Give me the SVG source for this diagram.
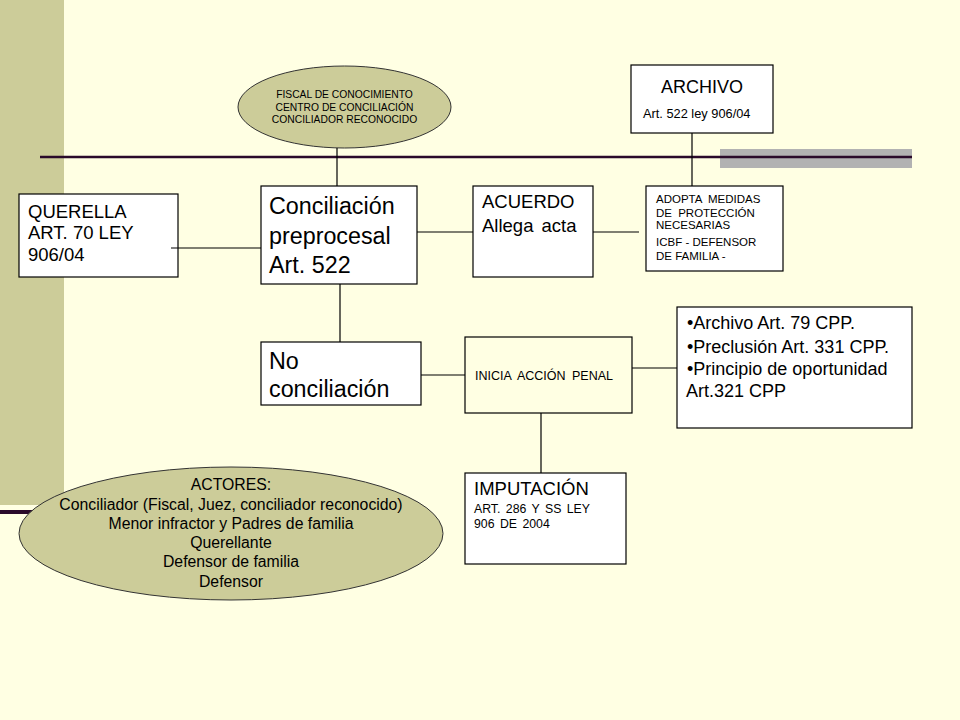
<svg xmlns="http://www.w3.org/2000/svg" width="960" height="720" viewBox="0 0 960 720">
<style>
text{font-family:"Liberation Sans",Arial,sans-serif;fill:#000}
.box{fill:#fff;stroke:#000;stroke-width:1.2}
.ell{fill:#CCCC99;stroke:#333;stroke-width:1}
.c{stroke:#000;stroke-width:1.2;fill:none}
</style>
<rect width="960" height="720" fill="#FFFFE3"/>
<rect x="0" y="0" width="64" height="505" fill="#CCCC99"/>
<rect x="720" y="149" width="192" height="19" fill="#B2B2B2"/>
<line x1="40" y1="157" x2="912" y2="157" stroke="#2A0A2A" stroke-width="2.6"/>
<line x1="0" y1="512" x2="70" y2="512" stroke="#2A0A2A" stroke-width="4"/>

<g id="fiscal">
<ellipse class="ell" cx="344.5" cy="107" rx="106.5" ry="41"/>
<text font-size="10.3" text-anchor="middle" x="344.5" y="97.5">FISCAL DE CONOCIMIENTO</text>
<text font-size="10.3" text-anchor="middle" x="344.5" y="110.5">CENTRO DE CONCILIACIÓN</text>
<text font-size="10.3" text-anchor="middle" x="344.5" y="123">CONCILIADOR RECONOCIDO</text>
</g>

<g id="archivo">
<rect class="box" x="631" y="65" width="142" height="68"/>
<text font-size="18" text-anchor="middle" x="702" y="92.5">ARCHIVO</text>
<text font-size="12.8" x="643" y="117.5">Art. 522 ley 906/04</text>
</g>

<g id="querella">
<rect class="box" x="19" y="194" width="159" height="83"/>
<text font-size="18.5" x="28" y="217.5">QUERELLA</text>
<text font-size="18.5" x="28" y="239">ART. 70 LEY</text>
<text font-size="18.5" x="28" y="260.5">906/04</text>
</g>

<g id="conciliacion">
<rect class="box" x="261" y="186" width="156" height="98"/>
<text font-size="23.3" x="269" y="214">Conciliación</text>
<text font-size="23.3" x="269" y="244">preprocesal</text>
<text font-size="23.3" x="269" y="272.5">Art. 522</text>
</g>

<g id="acuerdo">
<rect class="box" x="473" y="186" width="120" height="91"/>
<text font-size="18.5" x="482" y="208">ACUERDO</text>
<text font-size="18.5" x="482" y="231.5" word-spacing="3">Allega acta</text>
</g>

<g id="adopta">
<rect class="box" x="646" y="186" width="137" height="85"/>
<text font-size="11.5" x="656" y="202.5" word-spacing="3">ADOPTA MEDIDAS</text>
<text font-size="11.5" x="656" y="216.5" word-spacing="3">DE PROTECCIÓN</text>
<text font-size="11.5" x="656" y="229.3">NECESARIAS</text>
<text font-size="11.5" x="656" y="246">ICBF - DEFENSOR</text>
<text font-size="11.5" x="656" y="260">DE FAMILIA -</text>
</g>

<g id="noconciliacion">
<rect class="box" x="261" y="342" width="160" height="63"/>
<text font-size="23.3" x="269" y="369">No</text>
<text font-size="23.3" x="269" y="397.3">conciliación</text>
</g>

<g id="inicia">
<rect x="465" y="337" width="167" height="76" fill="#FFFFE3" stroke="#000" stroke-width="1.2"/>
<text font-size="12.5" x="475" y="380" word-spacing="3">INICIA ACCIÓN PENAL</text>
</g>

<g id="opciones">
<rect class="box" x="677" y="307" width="235" height="121"/>
<text font-size="18" x="687" y="329.3">•Archivo Art. 79 CPP.</text>
<text font-size="18" x="687" y="352.7">•Preclusión Art. 331 CPP.</text>
<text font-size="18" x="687" y="375">•Principio de oportunidad</text>
<text font-size="18" x="686" y="396.5">Art.321 CPP</text>
</g>

<g id="imputacion">
<rect class="box" x="465" y="473" width="161" height="91"/>
<text font-size="18.5" x="474" y="495">IMPUTACIÓN</text>
<text font-size="12.3" x="474" y="512.7" word-spacing="2">ART. 286 Y SS LEY</text>
<text font-size="12.3" x="474" y="528.3" word-spacing="2">906 DE 2004</text>
</g>

<g id="actores">
<ellipse class="ell" cx="231" cy="533.5" rx="212" ry="66.5"/>
<g font-size="15.8" text-anchor="middle">
<text x="231" y="490">ACTORES:</text>
<text x="231" y="509.5">Conciliador (Fiscal, Juez, conciliador reconocido)</text>
<text x="231" y="529">Menor infractor y Padres de familia</text>
<text x="231" y="548">Querellante</text>
<text x="231" y="567">Defensor de familia</text>
<text x="231" y="586.5">Defensor</text>
</g>
</g>

<g id="connectors">
<line class="c" x1="337" y1="148" x2="337" y2="186"/>
<line class="c" x1="692" y1="133" x2="692" y2="186"/>
<line class="c" x1="171" y1="248" x2="261" y2="248"/>
<line class="c" x1="417" y1="232" x2="473" y2="232"/>
<line class="c" x1="593" y1="232" x2="639" y2="232"/>
<line class="c" x1="340" y1="284" x2="340" y2="342"/>
<line class="c" x1="421" y1="375" x2="465" y2="375"/>
<line class="c" x1="632" y1="368" x2="677" y2="368"/>
<line class="c" x1="541" y1="413" x2="541" y2="473"/>
</g>
</svg>
